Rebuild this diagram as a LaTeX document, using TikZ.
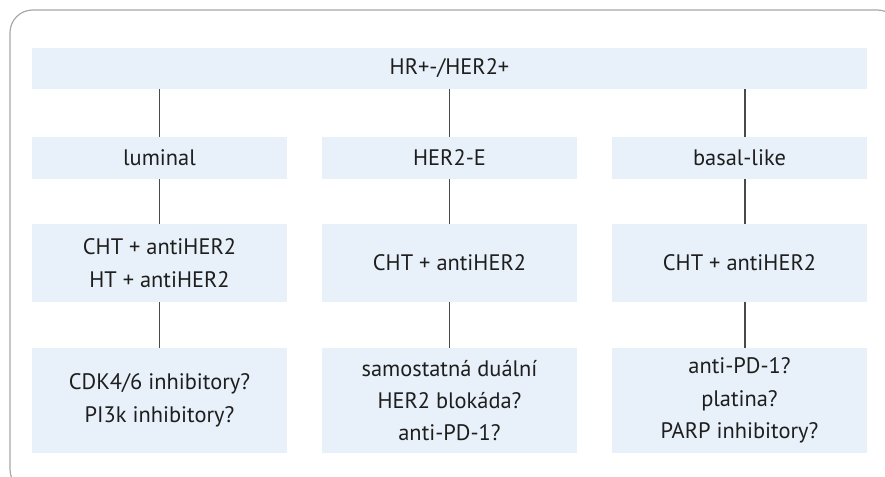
\documentclass[tikz,border=0pt]{standalone}
\usepackage{fontspec}
\setmainfont{PT Sans}
\definecolor{boxfill}{HTML}{E8F1F9}
\definecolor{txt}{HTML}{1E1E1E}
\definecolor{linec}{HTML}{4A4A4A}
\definecolor{framec}{HTML}{A8A8A8}
\begin{document}
\begin{tikzpicture}[x=0.75pt,y=-0.75pt,
  box/.style={fill=boxfill,draw=none,inner sep=0pt,align=center,text=txt,
    font=\fontsize{16.8}{24.3}\selectfont,minimum width=191.25pt},
  conn/.style={draw=linec,line width=1.4pt}]
\useasboundingbox (0,0) rectangle (885,476);
\draw[framec,line width=0.9pt,rounded corners=17pt] (10,10) rectangle (900,492);
\node[box,minimum width=626.25pt,minimum height=30.75pt] (top) at (449.5,68.5) {HR+-/HER2+};
\node[box,minimum height=31.5pt] (l2) at (159.5,158) {luminal};
\node[box,minimum height=31.5pt] (m2) at (449.5,158) {HER2-E};
\node[box,minimum height=31.5pt] (r2) at (739.5,158) {basal-like};
\node[box,minimum height=58.5pt] (l3) at (159.5,263) {CHT + antiHER2\\HT + antiHER2};
\node[box,minimum height=58.5pt] (m3) at (449.5,263) {CHT + antiHER2};
\node[box,minimum height=58.5pt] (r3) at (739.5,263) {CHT + antiHER2};
\node[box,minimum height=78.75pt] (l4) at (159.5,400.5) {CDK4/6 inhibitory?\\PI3k inhibitory?};
\node[box,minimum height=78.75pt] (m4) at (449.5,400.5) {samostatná duální\\HER2 blokáda?\\anti-PD-1?};
\node[box,minimum height=78.75pt] (r4) at (739.5,400.5) {anti-PD-1?\\platina?\\PARP inhibitory?};
\draw[conn] (top.south -| l2.north) -- (l2.north);
\draw[conn] (top.south -| m2.north) -- (m2.north);
\draw[conn] ([xshift=4.1pt]top.south -| r2.north) -- ([xshift=4.1pt]r2.north);
\draw[conn] (l2.south) -- (l3.north);
\draw[conn] (m2.south) -- (m3.north);
\draw[conn] ([xshift=4.1pt]r2.south) -- ([xshift=4.1pt]r3.north);
\draw[conn] (l3.south) -- (l4.north);
\draw[conn] (m3.south) -- (m4.north);
\draw[conn] ([xshift=4.1pt]r3.south) -- ([xshift=4.1pt]r4.north);
\end{tikzpicture}
\end{document}
